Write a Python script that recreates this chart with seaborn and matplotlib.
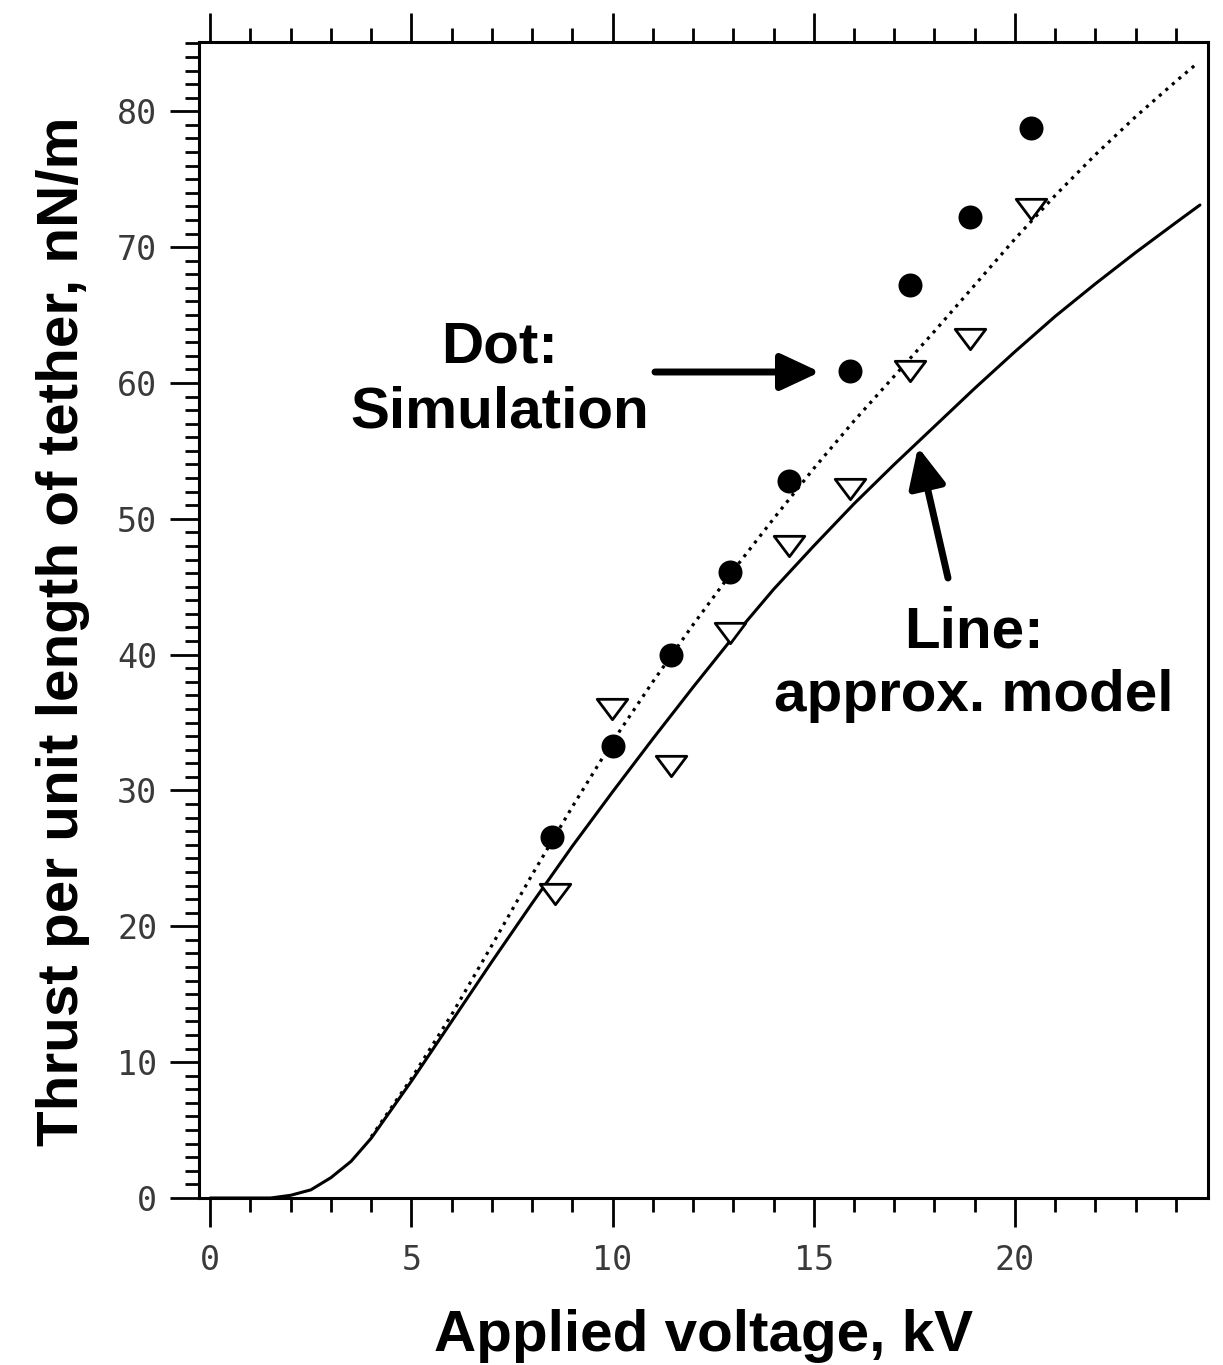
import numpy as np
import pandas as pd
import matplotlib
matplotlib.use("Agg")
import matplotlib.pyplot as plt
from matplotlib.path import Path
import seaborn as sns

# %% values
sim_voltage = [8.5, 10.0, 11.45, 12.92, 14.39, 15.9, 17.4, 18.89, 20.4]
sim_thrust = [26.6, 33.3, 40.0, 46.1, 52.8, 60.9, 67.2, 72.2, 78.8]

tri_voltage = [8.56, 9.98, 11.45, 12.92, 14.39, 15.9, 17.4, 18.89, 20.4]
tri_thrust = [22.4, 36.0, 31.8, 41.6, 48.0, 52.2, 60.9, 63.2, 72.8]

model_voltage = [0, 1.5, 2, 2.5, 3, 3.5, 4, 4.5, 5, 5.5, 6, 7, 8, 9, 10, 11,
                 12, 13, 14, 15, 16, 17, 18, 19, 20, 21, 22, 23, 24, 24.6]
model_thrust = [0, 0, 0.2, 0.6, 1.5, 2.7, 4.4, 6.5, 8.6, 10.8, 13.0, 17.4,
                21.7, 25.9, 29.9, 33.8, 37.6, 41.3, 44.8, 48.0, 51.1, 54.0,
                56.8, 59.6, 62.3, 64.9, 67.3, 69.6, 71.8, 73.1]

dotted_voltage = [4, 5, 6, 7, 8, 9, 10, 11, 12, 13, 14, 15, 16, 17, 18, 19,
                  20, 21, 22, 23, 24, 24.56]
dotted_thrust = [4.5, 8.8, 13.5, 18.6, 23.8, 28.8, 33.6, 38.0, 42.2, 46.2,
                 50.0, 53.7, 57.2, 60.5, 63.8, 67.2, 70.6, 73.8, 76.8, 79.6,
                 82.2, 83.6]

# %% style
sns.set_style("ticks")
plt.rcParams["font.family"] = ["Liberation Sans", "DejaVu Sans"]
plt.rcParams["text.color"] = "black"
plt.rcParams["axes.labelcolor"] = "black"

fig = plt.figure(figsize=(12.23, 13.65), dpi=100)
ax = fig.add_axes([199 / 1223, 167 / 1365, (1208 - 199) / 1223, (1198 - 42) / 1365])

model = pd.DataFrame({"V": model_voltage, "T": model_thrust})
dotted = pd.DataFrame({"V": dotted_voltage, "T": dotted_thrust})
sns.lineplot(data=model, x="V", y="T", ax=ax, color="black", lw=2.2,
             sort=False, estimator=None)
sns.lineplot(data=dotted, x="V", y="T", ax=ax, color="black", lw=2.3,
             sort=False, estimator=None, linestyle=(0, (1, 1.7)))

# wide downward triangle
tri = Path([(-1.5, 1), (1.5, 1), (0, -1), (-1.5, 1)],
           [Path.MOVETO, Path.LINETO, Path.LINETO, Path.CLOSEPOLY])
sns.scatterplot(x=tri_voltage, y=tri_thrust, ax=ax, marker=tri, s=22 ** 2,
                facecolor="white", edgecolor="black", linewidth=2.0, zorder=3)
sns.scatterplot(x=sim_voltage, y=sim_thrust, ax=ax, marker="o", s=16 ** 2,
                color="black", edgecolor="black", zorder=4)

ax.set_xlim(-0.28, 24.8)
ax.set_ylim(0, 85.1)
ax.set_xticks(np.arange(0, 21, 5))
ax.set_xticks(np.arange(0, 25, 1), minor=True)
ax.set_yticks(np.arange(0, 81, 10))
ax.set_yticks(np.arange(0, 86, 1), minor=True)

for s in ax.spines.values():
    s.set_linewidth(2.2)
    s.set_color("black")

ax.tick_params(which="both", direction="out", top=True, right=False,
               color="black", width=2.0)
ax.tick_params(which="major", length=21)
ax.tick_params(which="minor", length=10)
ax.tick_params(axis="x", which="major", pad=12)
ax.tick_params(axis="y", which="major", pad=9)
for lab in ax.get_xticklabels() + ax.get_yticklabels():
    lab.set_fontfamily("DejaVu Sans Mono")
    lab.set_fontsize(24)
    lab.set_color("#3a3a3a")

ax.set_xlabel("Applied voltage, kV", fontsize=42, fontweight="bold",
              color="black")
ax.set_ylabel("Thrust per unit length of tether, nN/m", fontsize=42,
              fontweight="bold", color="black")
ax.xaxis.set_label_coords(0.5, -0.096)
ax.yaxis.set_label_coords(-0.108, 0.49)

# annotations
fig.text(500 / 1223, 1 - 380 / 1365, "Dot:\nSimulation", ha="center",
         va="center", fontsize=42, fontweight="bold", linespacing=1.28,
         color="black")
fig.text(974 / 1223, 1 - 664 / 1365, "Line:\napprox. model", ha="center",
         va="center", fontsize=42, fontweight="bold", linespacing=1.22,
         color="black")

arrow = dict(arrowstyle="-|>,head_length=1.5,head_width=0.7", lw=5,
             color="black", shrinkA=0, shrinkB=0, mutation_scale=16)
ax.annotate("", xy=(820, 1365 - 372), xytext=(655, 1365 - 372),
            xycoords="figure pixels", textcoords="figure pixels",
            arrowprops=arrow)
ax.annotate("", xy=(918, 1365 - 447), xytext=(948, 1365 - 578),
            xycoords="figure pixels", textcoords="figure pixels",
            arrowprops=arrow)

fig.savefig("out.png", dpi=100, facecolor="white")
